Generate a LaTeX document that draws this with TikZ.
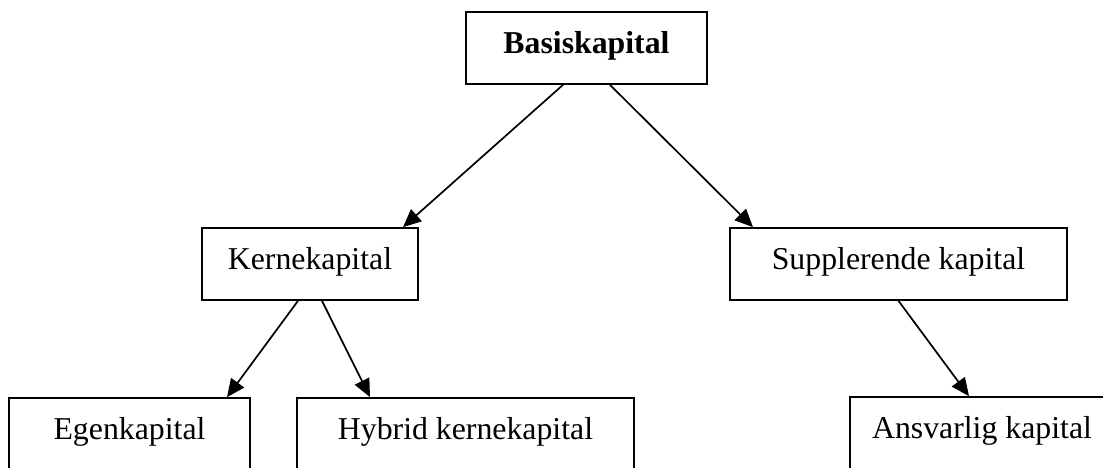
\documentclass[tikz,border=0pt]{standalone}
\usepackage{fontspec}
\setmainfont{Liberation Serif}
\usetikzlibrary{arrows.meta,positioning}

\begin{document}
\begin{tikzpicture}[
    x = 0.5pt, y = -0.5pt, % one unit is one pixel of the page
    > = {Triangle[length=9pt,width=8pt]}, % arrow head style
    line width = 0.85pt, % line style
    font = \fontsize{15.9}{19}\selectfont,
    ]

    \tikzset{kasse/.style={
    draw = black,
    rectangle,
    inner sep = 0pt,
    text depth = 6pt,
    minimum height = 36pt
    }}
    \useasboundingbox (0,0) rectangle (1103,467);
    \clip (0,0) rectangle (1103,467);

    \node[kasse, minimum width=120.5pt] (basis) at (586.5,48) {\textbf{Basiskapital}};
    \node[kasse, minimum width=108pt] (kerne) at (310,264) {Kernekapital};
    \node[kasse, minimum width=168.5pt] (supp) at (898.5,264) {Supplerende kapital};
    \node[kasse, minimum width=120.5pt] (egen) at (129.5,434) {Egenkapital};
    \node[kasse, minimum width=168.5pt] (hybrid) at (465.5,434) {Hybrid kernekapital};
    \node[kasse, minimum width=132pt] (ansv) at (982,433) {Ansvarlig kapital};

    \draw[->] ([xshift=-11.75pt]basis.south) -- ([xshift=46.5pt]kerne.north);
    \draw[->] ([xshift=11.75pt]basis.south) -- ([xshift=-72.75pt]supp.north);
    \draw[->] ([xshift=-6pt]kerne.south) -- ([xshift=48.75pt]egen.north);
    \draw[->] ([xshift=6pt]kerne.south) -- ([xshift=-47.75pt]hybrid.north);
    \draw[->] (supp.south) -- ([xshift=-6.5pt]ansv.north);
\end{tikzpicture}
\end{document}
